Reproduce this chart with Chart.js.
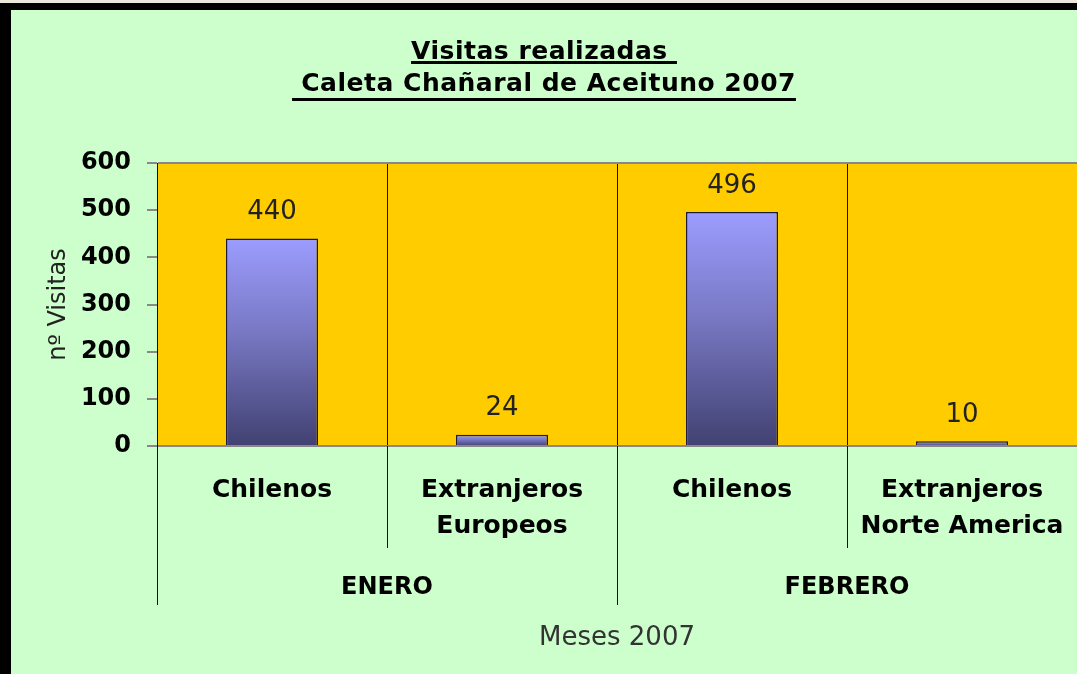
<!DOCTYPE html>
<html>
<head>
<meta charset="utf-8">
<script src="https://cdn.jsdelivr.net/npm/chart.js@4/dist/chart.umd.min.js"></script>
<style>
  html, body { margin: 0; padding: 0; }
  body { width: 1077px; height: 674px; background: #000; position: relative; overflow: hidden; }
  #strip { position: absolute; left: 0; top: 0; width: 1077px; height: 3px; background: #ECE9DC; }
  #wrap { position: absolute; left: 11px; top: 10px; width: 1066px; height: 664px; background: #CCFFCC; }
</style>
</head>
<body>
<div id="strip"></div>
<div id="wrap"><canvas id="visitasChart" width="1066" height="664"></canvas></div>
<script>
// chart data
var categories = [['Chilenos'], ['Extranjeros', 'Europeos'], ['Chilenos'], ['Extranjeros', 'Norte America']]
var months = ['ENERO', 'FEBRERO']
var visitas = [440, 24, 496, 10]
var yMin = 0
var yMax = 600
var yStep = 100
var titleLines = ['Visitas realizadas ', ' Caleta Chañaral de Aceituno 2007']
var yTitle = 'nº Visitas'
var xTitle = 'Meses 2007'

var FONT = '"DejaVu Sans", Verdana, sans-serif'

// per-bar vertical gradient, light on top, dark at the base
function barFill(context) {
  var chart = context.chart
  var y = chart.scales.y
  if (!chart.chartArea || !y || context.raw == null) return '#7a7ac0'
  var top = y.getPixelForValue(context.raw)
  var base = y.getPixelForValue(0)
  if (!isFinite(top) || base - top < 1) return '#6a6ab8'
  var g = chart.ctx.createLinearGradient(0, top, 0, base)
  g.addColorStop(0, '#9c9cff')
  g.addColorStop(0.45, '#7878c4')
  g.addColorStop(1, '#414172')
  return g
}

// gold plot area
var plotBackground = {
  id: 'plotBackground',
  beforeDraw: function (chart) {
    var a = chart.chartArea
    var ctx = chart.ctx
    ctx.save()
    ctx.fillStyle = '#FFCC00'
    ctx.fillRect(a.left, a.top, a.right - a.left, a.bottom - a.top)
    ctx.restore()
  }
}

// underlined two line title
var underlinedTitle = {
  id: 'underlinedTitle',
  afterDraw: function (chart) {
    var ctx = chart.ctx
    var cx = chart.width / 2
    var baselines = [49, 81]
    var underlines = [51, 88]
    ctx.save()
    ctx.font = 'bold 25px ' + FONT
    if ('letterSpacing' in ctx) ctx.letterSpacing = '0.5px'
    ctx.fillStyle = '#000'
    ctx.textAlign = 'left'
    ctx.textBaseline = 'alphabetic'
    titleLines.forEach(function (line, i) {
      var w = ctx.measureText(line).width
      var x = cx - w / 2
      ctx.fillText(line, x, baselines[i])
      ctx.fillRect(x, underlines[i], w, 3)
    })
    ctx.restore()
  }
}

// value labels above the bars
var valueLabels = {
  id: 'valueLabels',
  afterDatasetsDraw: function (chart) {
    var ctx = chart.ctx
    var meta = chart.getDatasetMeta(0)
    ctx.save()
    ctx.font = '26px ' + FONT
    ctx.fillStyle = '#222'
    ctx.textAlign = 'center'
    ctx.textBaseline = 'middle'
    meta.data.forEach(function (bar, i) {
      ctx.fillText(String(visitas[i]), bar.x, bar.y - 26)
    })
    ctx.restore()
  }
}

// category / month dividers below the axis
var axisDividers = {
  id: 'axisDividers',
  afterDraw: function (chart) {
    var xs = chart.scales.x
    var x2 = chart.scales.x2
    var ctx = chart.ctx
    var half = (xs.getPixelForValue(1) - xs.getPixelForValue(0)) / 2
    ctx.save()
    ctx.strokeStyle = '#111'
    ctx.lineWidth = 1
    for (var i = 0; i < categories.length; i++) {
      var px = Math.round(xs.getPixelForValue(i) - half) + 0.5
      var monthEdge = i % 2 === 0
      var top = i === 0 ? chart.chartArea.top : chart.chartArea.bottom
      var bottom = monthEdge ? x2.top + 57 : xs.bottom
      ctx.beginPath()
      ctx.moveTo(px, top)
      ctx.lineTo(px, bottom)
      ctx.stroke()
    }
    ctx.restore()
  }
}

var ctx = document.getElementById('visitasChart').getContext('2d')
var chart = new Chart(ctx, {
  type: 'bar',
  data: {
    labels: categories,
    datasets: [
      {
        label: 'Visitas',
        data: visitas,
        backgroundColor: barFill,
        borderColor: '#1c1c3a',
        borderWidth: 1.5,
        barPercentage: 0.4,
        categoryPercentage: 1,
      },
    ],
  },
  options: {
    responsive: false,
    animation: false,
    layout: { padding: { top: 153, left: 0, right: 0, bottom: 0 } },
    plugins: {
      legend: { display: false },
      title: { display: false },
      tooltip: { enabled: false },
    },
    scales: {
      x: {
        type: 'category',
        position: 'bottom',
        weight: 0,
        offset: true,
        grid: {
          display: true,
          drawOnChartArea: true,
          drawTicks: true,
          tickLength: 26,
          tickColor: 'rgba(0,0,0,0)',
          offset: true,
          color: function (c) { return c.index === 0 || c.index >= categories.length ? 'rgba(0,0,0,0)' : '#111' },
          lineWidth: 1,
        },
        border: { display: true, color: '#888', width: 2 },
        ticks: {
          autoSkip: false,
          maxRotation: 0,
          minRotation: 0,
          padding: 0,
          color: '#000',
          font: { family: FONT, size: 25, weight: 'bold', lineHeight: 1.44 },
        },
        afterFit: function (scale) { scale.height = 102 },
      },
      x2: {
        type: 'category',
        position: 'bottom',
        weight: 1,
        labels: months,
        offset: true,
        grid: { display: false, drawTicks: false },
        border: { display: false },
        ticks: {
          autoSkip: false,
          maxRotation: 0,
          padding: 25,
          color: '#000',
          font: { family: FONT, size: 24, weight: 'bold', lineHeight: 1.2 },
        },
        title: {
          display: true,
          text: xTitle,
          color: '#333',
          font: { family: FONT, size: 26, lineHeight: 1.2 },
          padding: { top: 0, bottom: 20 },
        },
        afterFit: function (scale) { scale.height = 126 },
      },
      y: {
        min: yMin,
        max: yMax,
        ticks: {
          stepSize: yStep,
          padding: 16,
          color: '#000',
          font: { family: FONT, size: 24, weight: 'bold' },
        },
        grid: {
          drawOnChartArea: true,
          drawTicks: true,
          tickLength: 10,
          tickColor: '#888',
          lineWidth: 2,
          color: function (c) { return c.tick && c.tick.value === yMax ? '#888' : 'rgba(0,0,0,0)' },
        },
        border: { display: true, color: '#111', width: 1 },
        title: {
          display: true,
          text: yTitle,
          color: '#222',
          font: { family: FONT, size: 24, lineHeight: 1.2 },
          padding: { top: 33, bottom: 0 },
        },
        afterFit: function (scale) { scale.width = 146 },
      },
    },
  },
  plugins: [plotBackground, underlinedTitle, valueLabels, axisDividers],
})
</script>
</body>
</html>
